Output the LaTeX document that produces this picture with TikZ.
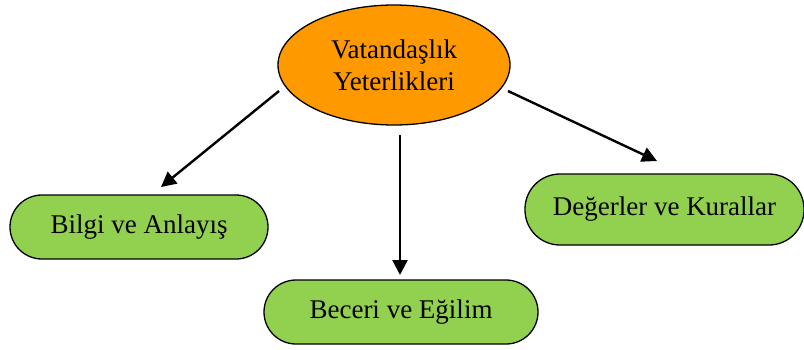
\documentclass[tikz,border=0pt]{standalone}
\usepackage{fontspec}
\setmainfont{Liberation Serif}
\usetikzlibrary{arrows.meta,shapes.geometric}
\definecolor{orangefill}{HTML}{FF9900}
\definecolor{greenfill}{HTML}{92D050}
\tikzset{
  topnode/.style={ellipse,draw=black,line width=1.3pt,fill=orangefill,minimum width=232pt,minimum height=120pt,align=center,font=\fontsize{27}{32}\selectfont,inner sep=0pt},
  leaf/.style={rectangle,rounded corners=32pt,draw=black,line width=1.3pt,fill=greenfill,minimum height=64pt,font=\fontsize{27}{32}\selectfont,inner sep=0pt},
  conn/.style={line width=2.4pt,-{Triangle[length=15pt,width=15pt]}}
}
\begin{document}
\begin{tikzpicture}[x=1pt,y=-1pt]
\useasboundingbox (0,0) rectangle (804,349);
\node[topnode] (top) at (394,65) {Vatandaşlık\\Yeterlikleri};
\node[leaf,minimum width=258pt] (bilgi) at (139,227) {Bilgi ve Anlayış};
\node[leaf,minimum width=274pt] (beceri) at (401,312) {Beceri ve Eğilim};
\node[leaf,minimum width=279pt,minimum height=71pt,rounded corners=35pt] (deger) at (664.5,209.5) {Değerler ve Kurallar};
\coordinate (s1) at (279,91);
\coordinate (e1) at (161,187);
\coordinate (s2) at (400,135);
\coordinate (e2) at (400,275);
\coordinate (s3) at (508,91);
\coordinate (e3) at (657,161);
\draw[conn] (s1) -- (e1);
\draw[conn] (s2) -- (e2);
\draw[conn] (s3) -- (e3);
\end{tikzpicture}
\end{document}
